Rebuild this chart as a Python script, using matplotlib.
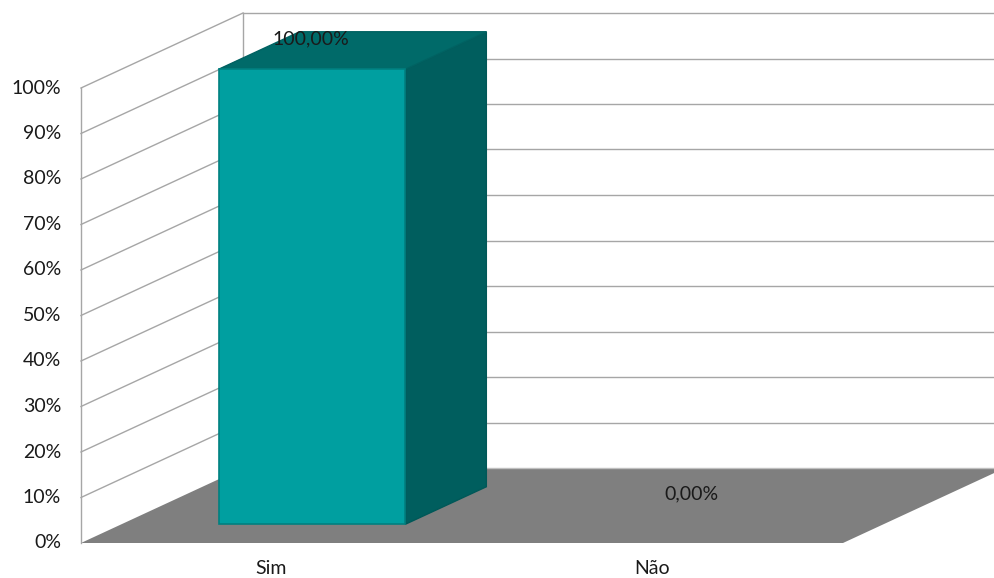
import numpy as np
import matplotlib.pyplot as plt
from matplotlib.patches import Polygon

categories = ["Sim", "Não"]
values = [1.00, 0.00]
value_labels = ["100,00%", "0,00%"]
ticks = np.arange(0, 1.01, 0.1)
tick_labels = ["%d%%" % round(t * 100) for t in ticks]

plt.rcParams['font.family'] = ['Lato', 'DejaVu Sans']

fig = plt.figure(figsize=(9.94, 5.78), dpi=100)
ax = fig.add_axes([0, 0, 1, 1])
ax.set_xlim(0, 994)
ax.set_ylim(578, 0)
ax.axis('off')

# oblique projection: front plane origin, plot size, depth offset
X0, Y0 = 81, 543
W, H = 762, 455
DX, DY = 162, -75
slot = W / len(categories)


def proj(x, v, d):
    return (X0 + x + d * DX, Y0 - v * H + d * DY)


grid_c = '#a6a6a6'

# floor
floor = [proj(0, 0, 0), proj(W, 0, 0), proj(W, 0, 1), proj(0, 0, 1)]
ax.add_patch(Polygon(floor, closed=True, facecolor='#7f7f7f', edgecolor='none', zorder=1))

# side wall and back wall gridlines
for t in ticks:
    a = proj(0, t, 0)
    b = proj(0, t, 1)
    c = proj(W, t, 1)
    if t > 0:
        ax.plot([a[0], b[0]], [a[1], b[1]], color=grid_c, lw=1, zorder=2)
    ax.plot([b[0], c[0]], [b[1], c[1]], color=grid_c if t > 0 else '#bfbfbf', lw=1, zorder=2)
p, q = proj(0, 0, 0), proj(0, 1, 0)
ax.plot([p[0], q[0]], [p[1], q[1]], color=grid_c, lw=1, zorder=2)
p, q = proj(0, 0, 1), proj(0, 1, 1)
ax.plot([p[0], q[0]], [p[1], q[1]], color=grid_c, lw=1, zorder=2)

# tick labels
for t, lab in zip(ticks, tick_labels):
    x, y = proj(0, t, 0)
    ax.text(x - 20, y, lab, ha='right', va='center', fontsize=14, color='#1a1a1a')

# bars
half = 0.245 * slot
d0, d1 = 0.25, 0.75
for i, (cat, v, lab) in enumerate(zip(categories, values, value_labels)):
    cx = (i + 0.5) * slot
    xl, xr = cx - half, cx + half
    if v > 0:
        front = [proj(xl, 0, d0), proj(xr, 0, d0), proj(xr, v, d0), proj(xl, v, d0)]
        side = [proj(xr, 0, d0), proj(xr, 0, d1), proj(xr, v, d1), proj(xr, v, d0)]
        top = [proj(xl, v, d0), proj(xr, v, d0), proj(xr, v, d1), proj(xl, v, d1)]
        ax.add_patch(Polygon(side, closed=True, facecolor='#005e5e', edgecolor='#005858', lw=1, zorder=3))
        ax.add_patch(Polygon(top, closed=True, facecolor='#006a69', edgecolor='#006262', lw=1, zorder=3))
        ax.add_patch(Polygon(front, closed=True, facecolor='#009fa0', edgecolor='#008080', lw=1.2, zorder=4))
    lx, ly = proj(cx, v, 0.5)
    ax.text(lx - 42, ly - 12, lab, ha='center', va='center', fontsize=14, color='#1a1a1a', zorder=5)
    bx, by = proj(cx, 0, 0)
    ax.text(bx, by + 26, cat, ha='center', va='center', fontsize=14, color='#1a1a1a')

fig.savefig('out.png', dpi=100)
